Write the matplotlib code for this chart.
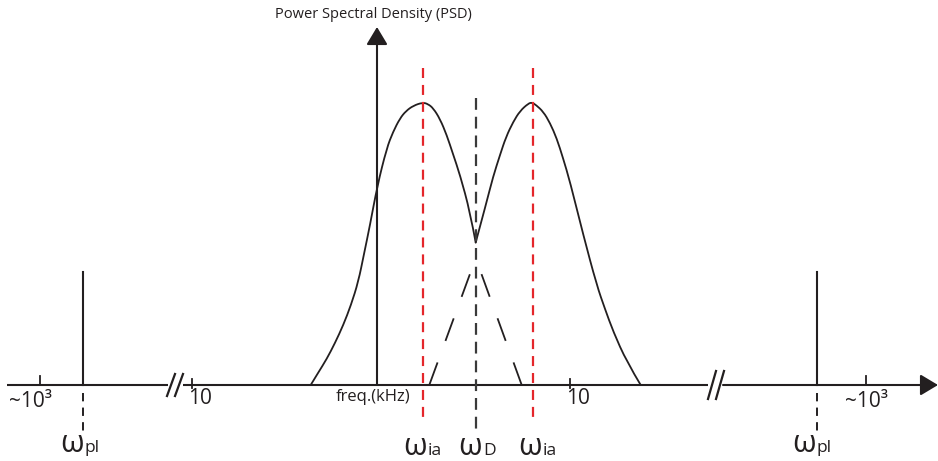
import matplotlib
matplotlib.use("Agg")
import matplotlib.pyplot as plt
from matplotlib.path import Path
from matplotlib.patches import PathPatch

plt.rcParams['font.family'] = ['Open Sans', 'DejaVu Sans']
plt.rcParams['lines.scale_dashes'] = False

# schematic units: x ~ pixel position along freq axis, y = height above the axis
# PSD curve (two ion-acoustic peaks with a dip at omega_D)
# left lobe ends at the dip, right lobe starts there
left_x = [310.7, 318, 326.7, 335, 343.3, 351, 358.3, 364, 370, 377.3, 386.7, 393, 400, 406,
          413.3, 422.7, 428, 433.3, 440, 446.7, 453, 460, 470, 475.7]
left_y = [0, 12, 26, 42, 60, 80, 103.3, 131, 160, 199, 236.7, 253, 266.7, 274,
          279.3, 282.5, 281, 276.7, 266, 250, 231, 210, 173.3, 142.5]
right_x = [475.7, 486.7, 493, 500, 506, 513.3, 520, 528.3, 532, 536, 543.3, 550, 556.7, 563,
           570, 583.3, 596.7, 605, 613.3, 626.7, 640.7]
right_y = [142.5, 183.3, 208, 230, 248, 263.3, 274, 281.5, 282.5, 280, 273.3, 262, 246.7, 227,
           203.3, 150, 100, 76, 53.3, 23.3, 0]

# hidden tails of the two peaks under the dip (dashed)
tail_left_x = [429.3, 470.7]
tail_left_y = [0, 113]
tail_right_x = [521.7, 480]
tail_right_y = [0, 115]

# plasma line spikes
spike_x = [83, 817]
spike_h = 113

# marker lines
w_ia = [423, 532.5]
w_d = 476

# tick positions and labels
tick_x = [40, 192, 570, 866]
tick_lab = ['~10³', '10', '10', '~10³']
break_x = [175, 716]

ink = '#231f20'
red = '#e4262b'

fig = plt.figure(figsize=(9.38, 4.61), dpi=100)
ax = fig.add_axes([0, 0, 1, 1])
ax.set_xlim(0, 938)
ax.set_ylim(-76, 385)
ax.axis('off')


def smooth_path(xs, ys):
    # quadratic bezier through midpoints, matplotlib does the drawing
    pts = list(zip(xs, ys))
    verts = [pts[0]]
    codes = [Path.MOVETO]
    for i in range(1, len(pts) - 1):
        mid = ((pts[i][0] + pts[i + 1][0]) / 2, (pts[i][1] + pts[i + 1][1]) / 2)
        if i == len(pts) - 2:
            mid = pts[-1]
        verts += [pts[i], mid]
        codes += [Path.CURVE3, Path.CURVE3]
    return Path(verts, codes)


# horizontal axis, broken at the two "//" marks
ax.plot([7, break_x[0] - 7], [0, 0], color=ink, lw=1.5, solid_capstyle='butt')
ax.plot([break_x[0] + 8, break_x[1] - 8], [0, 0], color=ink, lw=1.5, solid_capstyle='butt')
ax.annotate('', xy=(938, 0), xytext=(break_x[1] + 7, 0),
            arrowprops=dict(arrowstyle='-|>,head_length=0.6,head_width=0.36', color=ink,
                            lw=1.5, mutation_scale=18, shrinkA=0, shrinkB=0))
for bx in break_x:
    h = 11 if bx < 400 else 14
    for dx in [-4, 4]:
        ax.plot([bx + dx - 4, bx + dx + 4], [-h, h], color=ink, lw=1.6)

# vertical axis
ax.annotate('', xy=(377, 358), xytext=(377, 0),
            arrowprops=dict(arrowstyle='-|>,head_length=0.6,head_width=0.36', color=ink,
                            lw=1.5, mutation_scale=18, shrinkA=0, shrinkB=0))
ax.text(373, 371, 'Power Spectral Density (PSD)', ha='center', va='center',
        fontsize=10.5, color=ink)
ax.text(373, -12, 'freq.(kHz)', ha='center', va='center', fontsize=12, color=ink)

# ticks
for tx, tl in zip(tick_x, tick_lab):
    if tl.startswith('~'):
        ax.plot([tx, tx], [0, 9], color=ink, lw=1.3)
        ax.text(tx - 10 if tx < 400 else tx, -16, tl, ha='center', va='center',
                fontsize=15, color=ink)
    else:
        ax.plot([tx, tx], [-3, 6], color=ink, lw=1.3)
        ax.text(tx - 4, -13, tl, ha='left', va='center', fontsize=15, color=ink)

# spikes
for sx in spike_x:
    ax.plot([sx, sx], [0, spike_h], color=ink, lw=1.5)
    ax.plot([sx, sx], [-8, -46], color=ink, lw=1.4, linestyle=(0, (6, 4.5)))

# red and black dashed marker lines
for wx in w_ia:
    ax.plot([wx, wx], [317, -37], color=red, lw=1.6, linestyle=(0, (7.2, 5)))
ax.plot([w_d, w_d], [287, -50], color='#3a3a3a', lw=1.6, linestyle=(0, (8.5, 5)))

# PSD curve and hidden tails
for xs, ys in [(left_x, left_y), (right_x, right_y)]:
    ax.add_patch(PathPatch(smooth_path(xs, ys), facecolor='none', edgecolor=ink, lw=1.3,
                           capstyle='round', joinstyle='round'))
ax.plot(tail_left_x, tail_left_y, color=ink, lw=1.3, linestyle=(0, (17.3, 16.5)))
ax.plot(tail_right_x, tail_right_y, color=ink, lw=1.3, linestyle=(0, (17.3, 16.5)))

# omega labels
labels = [(84, 'pl'), (427, 'ia'), (482, 'D'), (542, 'ia'), (816, 'pl')]
for lx, sub in labels:
    base = -67 if sub == 'pl' else -70
    ax.text(lx, base, 'ω', ha='right', va='baseline', fontsize=22, color=ink)
    ax.text(lx + 1, base, sub, ha='left', va='baseline', fontsize=12.5, color=ink)

fig.savefig('out.png', dpi=100)
